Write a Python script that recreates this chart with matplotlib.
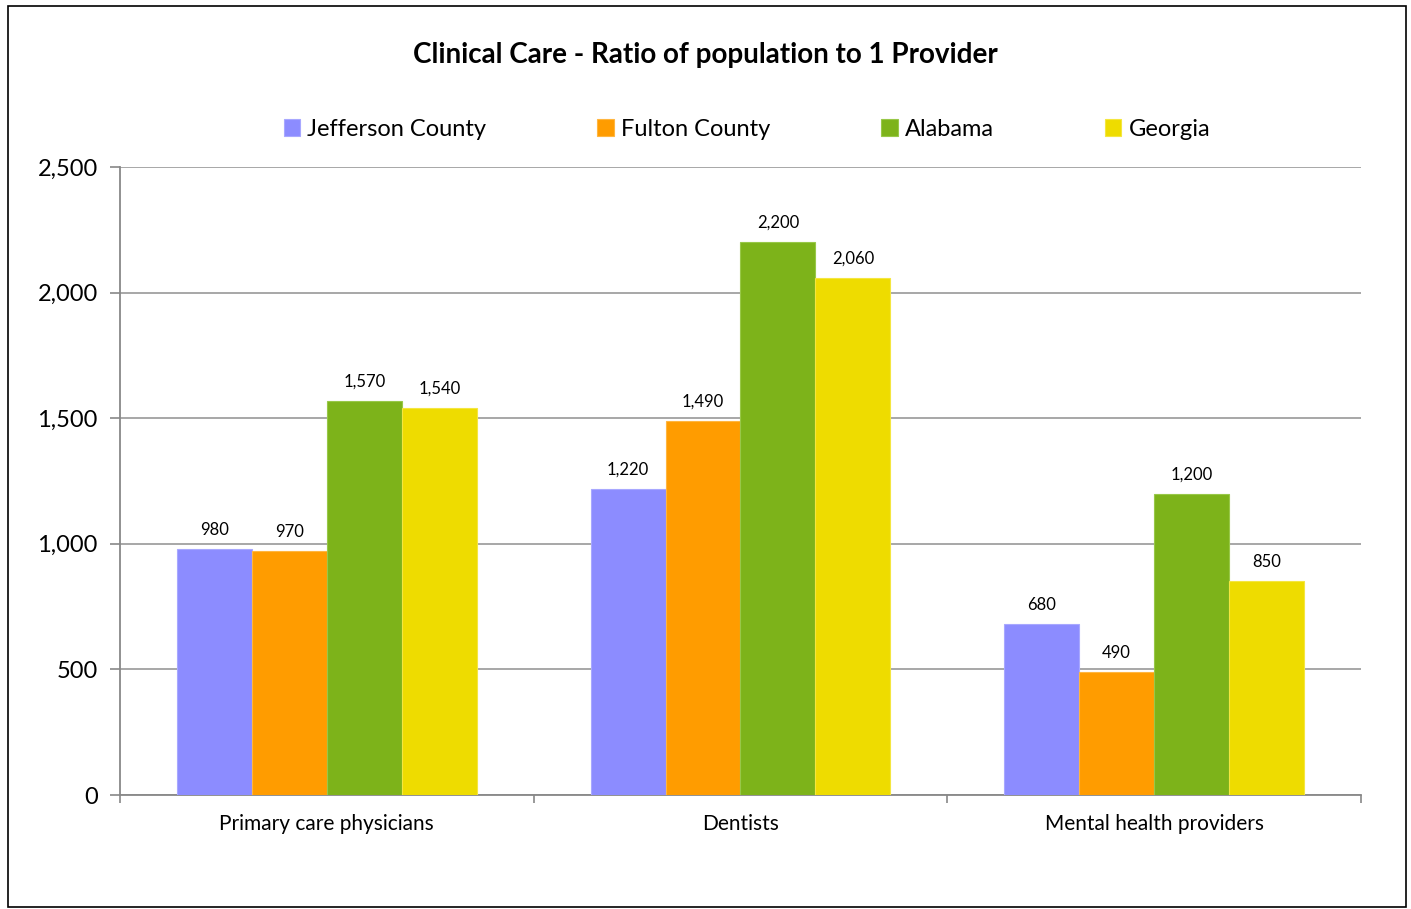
import matplotlib
matplotlib.use("Agg")
import matplotlib.pyplot as plt
import numpy as np
from matplotlib.patches import Rectangle

categories = ["Primary care physicians", "Dentists", "Mental health providers"]
series_names = ["Jefferson County", "Fulton County", "Alabama", "Georgia"]
jefferson = [980, 1220, 680]
fulton = [970, 1490, 490]
alabama = [1570, 2200, 1200]
georgia = [1540, 2060, 850]
yticks = [0, 500, 1000, 1500, 2000, 2500]
ytick_labels = ["0", "500", "1,000", "1,500", "2,000", "2,500"]

colors = ["#8C8CFF", "#FF9C00", "#7DB31A", "#EEDC00"]
edges = ["#A8A8FF", "#FFB640", "#98C848", "#F4E640"]

plt.rcParams['font.family'] = ['Lato', 'DejaVu Sans']

fig = plt.figure(figsize=(14.11, 9.09), dpi=100)
fig.patches.append(Rectangle((8/1411, 1-907/909), 1398/1411, 901/909,
                             transform=fig.transFigure, fill=False,
                             edgecolor="#000000", linewidth=1.2))
ax = fig.add_axes([120/1411, 1-795/909, 1241/1411, 628/909])

x = np.arange(len(categories))
width = 0.1813
data = [jefferson, fulton, alabama, georgia]
for i, (vals, name) in enumerate(zip(data, series_names)):
    pos = x + (i - 1.5) * width
    bars = ax.bar(pos, vals, width, color=colors[i], edgecolor=edges[i],
                  linewidth=0.8, label=name, zorder=3)
    for b, v in zip(bars, vals):
        ax.text(b.get_x() + b.get_width()/2, v + 45, f"{v:,}",
                ha="center", va="bottom", fontsize=12, color="#000000")

ax.set_xlim(-0.5, 2.5)
ax.set_ylim(0, 2500)
ax.set_yticks(yticks)
ax.set_yticklabels(ytick_labels, fontsize=17)
ax.yaxis.grid(True, color="#A0A0A0", linewidth=1.3, zorder=0)
ax.set_axisbelow(True)

ax.set_xticks([-0.5, 0.5, 1.5, 2.5])
ax.set_xticklabels([])
ax.set_xticks(x, minor=True)
ax.set_xticklabels(categories, minor=True, fontsize=15)
ax.tick_params(axis='x', which='minor', length=0, pad=14)
ax.tick_params(axis='x', which='major', length=6, color="#888888", width=1.2)
ax.tick_params(axis='y', length=7, color="#888888", width=1.2, pad=9)

for s in ["top", "right"]:
    ax.spines[s].set_visible(False)
for s in ["left", "bottom"]:
    ax.spines[s].set_color("#888888")
    ax.spines[s].set_linewidth(1.3)

fig.text(0.5, 1-55/909, "Clinical Care - Ratio of population to 1 Provider",
         ha="center", va="center", fontsize=20, fontweight="bold")

leg = fig.legend(loc="center", bbox_to_anchor=(747/1411, 1-129/909), ncol=4,
                 frameon=False, fontsize=17, handlelength=0.7, handleheight=0.7,
                 handletextpad=0.3, columnspacing=4.7)

fig.savefig("out.png", dpi=100)
